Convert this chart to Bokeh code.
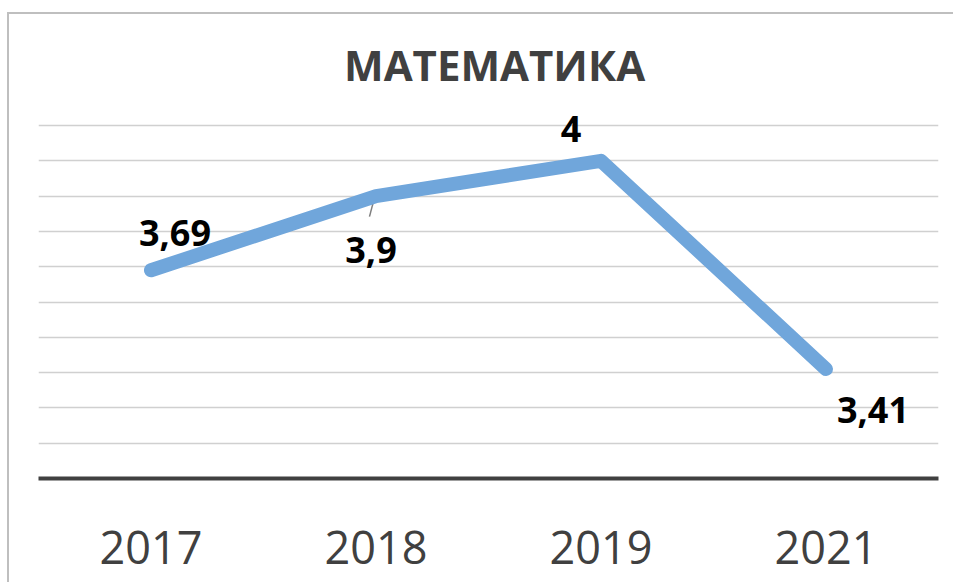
from bokeh.plotting import figure
from bokeh.models import ColumnDataSource, LabelSet, Label, FixedTicker, Range1d, FactorRange
from bokeh.core.properties import value
from bokeh.embed import file_html
from bokeh.resources import INLINE

# data
years = ["2017", "2018", "2019", "2021"]
scores = [3.69, 3.9, 4.0, 3.41]
grid_ticks = [3.2, 3.3, 3.4, 3.5, 3.6, 3.7, 3.8, 3.9, 4.0, 4.1]
title_text = "МАТЕМАТИКА"

labels = [f"{v:g}".replace(".", ",") for v in scores]
# label offsets (style, screen px)
lx_off = [24, -5, -30, 47]
ly_off = [37, -54, 32, -41]

src = ColumnDataSource(dict(x=years, y=scores, t=labels, xo=lx_off, yo=ly_off))

PX_PER_UNIT = 353.0
frame_h = 478 - 14
y_lo = 3.1
y_hi = y_lo + frame_h / PX_PER_UNIT

p = figure(width=953, height=582, x_range=FactorRange(*years), y_range=Range1d(y_lo, y_hi),
           output_backend="svg", toolbar_location=None,
           min_border_left=38, min_border_right=15, min_border_top=14, min_border_bottom=104)
p.styles = {"background": "linear-gradient(#bfbfbf,#bfbfbf) 7px 12px / 2px 580px no-repeat, "
                          "linear-gradient(#bfbfbf,#bfbfbf) 7px 12px / 950px 2px no-repeat, white"}
p.outline_line_color = None
p.background_fill_color = "white"
p.border_fill_color = None
p.x_range.range_padding = 0

p.yaxis.visible = False
p.xgrid.visible = False
p.ygrid.ticker = FixedTicker(ticks=grid_ticks)
p.ygrid.grid_line_color = "#d0d0d0"
p.ygrid.grid_line_width = 1.5

p.xaxis.axis_line_color = "#404040"
p.xaxis.axis_line_width = 4
p.xaxis.major_tick_line_color = None
p.xaxis.minor_tick_line_color = None
p.xaxis.major_label_text_font = "Open Sans"
p.xaxis.major_label_text_font_size = "45px"
p.xaxis.major_label_text_color = "#404040"
p.xaxis.major_label_standoff = 46

# leader line for 2018 label
i18 = years.index("2018")
p.segment(x0=[i18 + 0.5 - 0.007], y0=[scores[i18] - 0.005], x1=[i18 + 0.5 - 0.029], y1=[scores[i18] - 0.058],
          line_color="#7f7f7f", line_width=1.5)

p.line(x="x", y="y", source=src, line_width=14, line_color="#70A6DB", line_cap="round", line_join="round")

ls = LabelSet(x="x", y="y", text="t", source=src, x_offset="xo", y_offset="yo",
              text_align="center", text_baseline="middle",
              text_font=value("Open Sans"), text_font_style="bold", text_font_size="36px", text_color="black")
p.add_layout(ls)

title = Label(x=2.027, y=y_lo + (478 - 64) / PX_PER_UNIT, text=title_text, text_align="center",
              text_baseline="middle", text_font="Open Sans", text_font_style="bold",
              text_font_size="42px", text_color="#404040")
p.add_layout(title)

open("out.html", "w").write(file_html(p, INLINE))
